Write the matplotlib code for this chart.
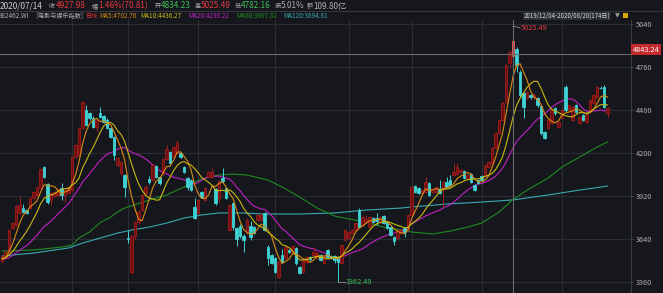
import numpy as np
import pandas as pd
import matplotlib
matplotlib.use("Agg")
import matplotlib.pyplot as plt
from matplotlib.patches import Rectangle

plt.rcParams['font.family'] = ['Noto Sans CJK SC', 'DejaVu Sans']

# ============================
# Data: daily candles 2019/12/04 - 2020/08/20 (174 days)
# ============================
opens = [3497, 3523, 3550, 3712, 3731, 3810, 3842, 3829, 3842, 3907,
         3927, 3972, 4109, 3998, 3894, 3920, 3927, 3972, 3927, 3940,
         3959, 4174, 4187, 4363, 4480, 4460, 4428, 4369, 4460, 4441,
         4415, 4363, 4304, 4122, 4070, 4057, 3650, 3425, 3660, 3750,
         3829, 3940, 4031, 4024, 4115, 4044, 4070, 4161, 4207, 4174,
         4200, 4200, 4109, 4037, 4024, 3848, 3809, 3946, 3894, 4044,
         4044, 3966, 3907, 4037, 3972, 3699, 3874, 3712, 3725, 3660,
         3679, 3725, 3718, 3764, 3764, 3809, 3588, 3536, 3517, 3393,
         3536, 3517, 3569, 3549, 3582, 3458, 3425, 3490, 3523, 3536,
         3517, 3536, 3484, 3569, 3530, 3530, 3523, 3484, 3634, 3647,
         3679, 3699, 3829, 3731, 3751, 3718, 3777, 3777, 3751, 3790,
         3751, 3718, 3653, 3647, 3679, 3712, 3699, 3796, 3985, 3972,
         3940, 3946, 4005, 3946, 3946, 3966, 3966, 4011, 4024, 4057,
         4063, 4076, 4083, 4037, 4063, 3992, 4024, 4050, 4050, 4109,
         4135, 4233, 4330, 4415, 4532, 4786, 4834.23, 4877, 4727, 4591,
         4558, 4578, 4565, 4558, 4506, 4337, 4363, 4395, 4493, 4369,
         4428, 4630, 4480, 4415, 4512, 4395, 4447, 4402, 4480, 4525,
         4565, 4623, 4630, 4460]
highs = [3543, 3569, 3705, 3752, 3862, 3920, 3868, 3835, 3915, 3955,
         3985, 4102, 4115, 4005, 3946, 3955, 3975, 4005, 3966, 3985,
         4180, 4260, 4370, 4540, 4510, 4470, 4440, 4425, 4500, 4450,
         4425, 4370, 4310, 4175, 4150, 4065, 3700, 3665, 3760, 3830,
         3935, 3990, 4050, 4130, 4122, 4050, 4165, 4252, 4215, 4245,
         4285, 4210, 4115, 4045, 4030, 3907, 3900, 3955, 3980, 4085,
         4102, 3975, 4025, 4102, 3980, 3870, 3880, 3718, 3740, 3670,
         3775, 3760, 3725, 3805, 3809, 3815, 3600, 3545, 3523, 3497,
         3575, 3595, 3575, 3601, 3590, 3465, 3510, 3530, 3530, 3588,
         3556, 3543, 3536, 3575, 3536, 3536, 3530, 3608, 3705, 3692,
         3705, 3750, 3840, 3790, 3796, 3790, 3785, 3809, 3790, 3796,
         3757, 3725, 3660, 3705, 3705, 3718, 3805, 3985, 3992, 3979,
         3966, 4044, 4011, 3972, 3985, 4024, 4018, 4044, 4057, 4135,
         4135, 4096, 4090, 4063, 4070, 3998, 4030, 4057, 4128, 4150,
         4240, 4337, 4422, 4532, 4780, 4870, 5025.49, 4890, 4740, 4600,
         4605, 4585, 4590, 4565, 4512, 4345, 4420, 4490, 4500, 4410,
         4490, 4640, 4520, 4510, 4520, 4440, 4455, 4455, 4552, 4585,
         4637, 4635, 4640, 4500]
lows = [3484, 3517, 3545, 3705, 3725, 3800, 3810, 3800, 3835, 3900,
        3920, 3965, 4040, 3870, 3860, 3914, 3920, 3894, 3881, 3935,
        3950, 4167, 4180, 4355, 4375, 4415, 4360, 4337, 4428, 4395,
        4355, 4298, 4154, 4110, 4060, 3914, 3615, 3412, 3640, 3740,
        3820, 3930, 4000, 4015, 4037, 3995, 4060, 4155, 4128, 4167,
        4195, 4165, 4070, 3960, 3950, 3770, 3800, 3905, 3885, 4037,
        4037, 3865, 3880, 4005, 3900, 3692, 3700, 3595, 3650, 3556,
        3670, 3634, 3670, 3755, 3758, 3690, 3471, 3475, 3419, 3386,
        3484, 3510, 3549, 3543, 3471, 3410, 3419, 3484, 3500, 3530,
        3510, 3497, 3477, 3517, 3510, 3484, 3362.49, 3477, 3627, 3640,
        3673, 3692, 3712, 3725, 3744, 3712, 3744, 3731, 3744, 3738,
        3705, 3660, 3601, 3640, 3673, 3653, 3692, 3790, 3940, 3933,
        3933, 3940, 3920, 3940, 3940, 3933, 3848, 3972, 3985, 4050,
        4057, 4070, 4030, 4030, 4005, 3950, 3998, 4018, 4044, 4100,
        4128, 4226, 4322, 4408, 4525, 4760, 4782.16, 4727, 4565, 4428,
        4550, 4555, 4555, 4500, 4320, 4290, 4355, 4390, 4450, 4360,
        4420, 4470, 4470, 4408, 4460, 4388, 4408, 4395, 4473, 4518,
        4558, 4615, 4493, 4434]
closes = [3530, 3556, 3699, 3744, 3855, 3861, 3816, 3809, 3907, 3946,
          3972, 4096, 4044, 3881, 3940, 3946, 3966, 3927, 3959, 3979,
          4174, 4252, 4363, 4532, 4382, 4428, 4369, 4415, 4434, 4402,
          4363, 4304, 4187, 4167, 4141, 3979, 3640, 3660, 3750, 3815,
          3930, 3979, 4011, 4122, 4044, 4005, 4161, 4226, 4135, 4239,
          4265, 4174, 4076, 3979, 3959, 3777, 3894, 3914, 3972, 4076,
          4076, 3874, 4018, 4018, 3907, 3861, 3718, 3640, 3660, 3634,
          3764, 3653, 3679, 3796, 3796, 3699, 3517, 3484, 3425, 3490,
          3490, 3588, 3556, 3595, 3484, 3419, 3504, 3523, 3510, 3556,
          3549, 3504, 3530, 3523, 3517, 3504, 3490, 3601, 3699, 3686,
          3699, 3744, 3718, 3783, 3770, 3783, 3751, 3757, 3783, 3744,
          3712, 3666, 3627, 3699, 3699, 3686, 3796, 3979, 3946, 3940,
          3959, 4011, 3927, 3966, 3979, 3940, 4011, 3979, 3992, 4076,
          4109, 4089, 4037, 4057, 4011, 3959, 4005, 4024, 4122, 4141,
          4233, 4330, 4415, 4525, 4773, 4857.17, 4927.98, 4773, 4578, 4500,
          4597, 4565, 4578, 4512, 4330, 4298, 4415, 4480, 4460, 4402,
          4480, 4480, 4512, 4500, 4467, 4434, 4415, 4447, 4545, 4578,
          4630, 4621, 4500, 4493]
# closes before the window, only used to start MA5/10/20
pre_closes = [3520, 3505, 3490, 3500, 3515, 3530, 3510, 3495, 3480, 3490,
              3505, 3520, 3535, 3525, 3510, 3500, 3495, 3505, 3515]

ma60_idx = [0, 9, 17, 20, 22, 25, 28, 31, 33, 35, 42, 47, 52, 57, 62, 66, 70,
            76, 80, 85, 90, 95, 99, 104, 109, 114, 117, 123, 128, 133, 137,
            142, 146, 151, 156, 160, 165, 170, 173]
ma60_val = [3562, 3569, 3588, 3601, 3647, 3686, 3747, 3783, 3816, 3842, 3894,
            3927, 3979, 4031, 4057, 4063, 4057, 4024, 3979, 3914, 3842, 3790,
            3771, 3751, 3718, 3699, 3686, 3673, 3692, 3718, 3744, 3816,
            3897.82, 3972, 4037, 4109, 4174, 4239, 4272]
ma120_idx = [0, 9, 19, 23, 28, 33, 37, 42, 47, 52, 57, 62, 68, 76, 85, 95,
             104, 114, 117, 127, 137, 146, 156, 165, 173]
ma120_val = [3530, 3549, 3582, 3614, 3647, 3679, 3699, 3718, 3744, 3777, 3797,
             3810, 3810, 3803, 3803, 3810, 3829, 3842, 3849, 3868, 3881,
             3894.81, 3927, 3959, 3985]

month_idx = [20, 36, 56, 78, 99, 117, 137, 160]
yticks = [3360, 3640, 3920, 4200, 4480, 4760, 5040]
cursor_idx = 146
cursor_price = 4843.24

# ============================
# Colors
# ============================
BG = '#15171c'
GRID = '#2a2d33'
UP_EDGE = '#a51c1c'
UP_FACE = '#6e1010'
DOWN = '#3fd3d6'
C_MA5 = '#d88a14'
C_MA10 = '#c9b814'
C_MA20 = '#c021c4'
C_MA60 = '#1f8c22'
C_MA120 = '#3aa8b4'
TXT = '#b0b0b0'
RED = '#e8393f'
GREEN = '#3cbf55'

W, H = 663, 293
fig = plt.figure(figsize=(W / 100, H / 100), dpi=100, facecolor=BG)
ax = fig.add_axes([0, 0, 631 / W, (H - 20) / H], facecolor=BG)

n = len(closes)
x = np.arange(n)
o = np.array(opens); c = np.array(closes)
hi = np.array(highs); lo = np.array(lows)

# grid
for t in yticks:
    ax.axhline(t, color=GRID, lw=0.8, zorder=0)
for m in month_idx:
    ax.axvline(m, color=GRID, lw=0.8, zorder=0)

# moving averages
allc = pd.Series(pre_closes + closes)
k = len(pre_closes)
ma5 = allc.rolling(5, min_periods=1).mean().values[k:]
ma10 = allc.rolling(10, min_periods=1).mean().values[k:]
ma20 = allc.rolling(20, min_periods=1).mean().values[k:]

ax.plot(ma120_idx, ma120_val, color=C_MA120, lw=0.8, zorder=1)
ax.plot(ma60_idx, ma60_val, color=C_MA60, lw=0.8, zorder=1)
ax.plot(x, ma20, color=C_MA20, lw=0.8, zorder=1)

# candles
bw = 0.68
for i in range(n):
    up = c[i] >= o[i]
    lo_b, hi_b = min(o[i], c[i]), max(o[i], c[i])
    if i == cursor_idx:
        col, face = '#ff5a5a', '#a82020'
    elif up:
        col, face = UP_EDGE, UP_FACE
    else:
        col, face = DOWN, DOWN
    ax.vlines(i, lo[i], lo_b, color=col, lw=0.7, zorder=2)
    ax.vlines(i, hi_b, hi[i], color=col, lw=0.7, zorder=2)
    ax.add_patch(Rectangle((i - bw / 2, lo_b), bw, max(hi_b - lo_b, 2),
                           facecolor=face, edgecolor=col, lw=0.6, zorder=3))

ax.plot(x, ma5, color=C_MA5, lw=0.8, zorder=4)
ax.plot(x, ma10, color=C_MA10, lw=0.8, zorder=4)

# crosshair
ax.axvline(cursor_idx, color='#6a6a6a', lw=0.8, zorder=5)
ax.axhline(cursor_price, color='#6a6a6a', lw=0.8, zorder=5)

# max / min markers
imax = int(np.argmax(hi)); imin = int(np.argmin(lo))
ax.plot([imax, imax + 2], [hi[imax], hi[imax] - 10], color='#909090', lw=0.6, zorder=5)
ax.text(imax + 2.3, hi[imax] - 14, f'{hi[imax]:.2f}', color=RED, fontsize=5.3,
        va='center', ha='left', zorder=6)
ax.plot([imin, imin + 2], [lo[imin], lo[imin]], color='#909090', lw=0.6, zorder=5)
ax.text(imin + 2.3, lo[imin], f'{lo[imin]:.2f}', color=GREEN, fontsize=5.3,
        va='center', ha='left', zorder=6)

ax.set_xlim(-0.6, 179.7)
ax.set_ylim(3289, 5066)
ax.set_xticks([])
ax.yaxis.tick_right()
ax.set_yticks(yticks)
ax.set_yticklabels([str(t) for t in yticks])
ax.tick_params(axis='y', colors='#3a3d42', labelcolor=TXT, labelsize=5.3,
               length=2, width=0.6, pad=1.5)
for s in ['top', 'left', 'bottom']:
    ax.spines[s].set_visible(False)
ax.spines['right'].set_color('#3a3d42')
ax.spines['right'].set_linewidth(0.8)

# price tag for the crosshair
ax.text(1.003, cursor_price + 30, f'{cursor_price:.2f}', transform=ax.get_yaxis_transform(),
        color='white', fontsize=5.3, va='center', ha='left', clip_on=False,
        bbox=dict(boxstyle='square,pad=0.25', fc='#c42a2e', ec='none'))

# ============================
# Header
# ============================
fig.add_artist(plt.Line2D([0, 1], [1 - 10.5 / H, 1 - 10.5 / H], color='#34373d', lw=0.8))

def ftext(px, py, s, color, size):
    fig.text(px / W, 1 - py / H, s, color=color, fontsize=size, va='center', ha='left')

row1 = [(0, '2020/07/14', '#cfcfcf', 5.9), (48.5, '收', TXT, 4.4), (55.5, '4927.98', RED, 5.9),
        (91.5, '幅', TXT, 4.4), (98, '1.46%(70.81)', RED, 5.9), (154.5, '开', TXT, 4.4),
        (161, '4834.23', GREEN, 5.9), (194.5, '高', TXT, 4.4), (201, '5025.49', RED, 5.9),
        (234.5, '低', TXT, 4.4), (241, '4782.16', GREEN, 5.9), (274.5, '振', TXT, 4.4),
        (281, '5.01%', TXT, 5.9), (306.5, '额', TXT, 4.4), (313, '109.80亿', TXT, 5.9)]
for px, s, col, sz in row1:
    ftext(px, 6, s, col, sz)

row2 = [(-1, '882462.WI', TXT, 4.6), (36, '[电影与娱乐指数]', TXT, 4.4),
        (86, '日线', '#e02a2a', 4.4), (99.5, 'MA5:4702.76', C_MA5, 4.6),
        (140.5, 'MA10:4436.27', C_MA10, 4.6), (188, 'MA20:4236.22', C_MA20, 4.6),
        (236, 'MA60:3897.82', C_MA60, 4.6), (283, 'MA120:3894.81', C_MA120, 4.6)]
for px, s, col, sz in row2:
    ftext(px, 15.5, s, col, sz)

fig.text(524 / W, 1 - 15.5 / H, '2019/12/04-2020/08/20(174日)', color='#d8d8d8',
         fontsize=4.4, va='center', ha='left',
         bbox=dict(boxstyle='square,pad=0.15', fc='#2a2d34', ec='none'))
fig.text(615 / W, 1 - 15.5 / H, '▼', color='#9a9a9a', fontsize=4.5, va='center', ha='left',
         family='DejaVu Sans')
fig.add_artist(Rectangle((623 / W, 1 - 18 / H), 5 / W, 5 / H, transform=fig.transFigure,
                         facecolor='#d9a600', edgecolor='none'))

fig.savefig('out.png', dpi=100, facecolor=BG)
